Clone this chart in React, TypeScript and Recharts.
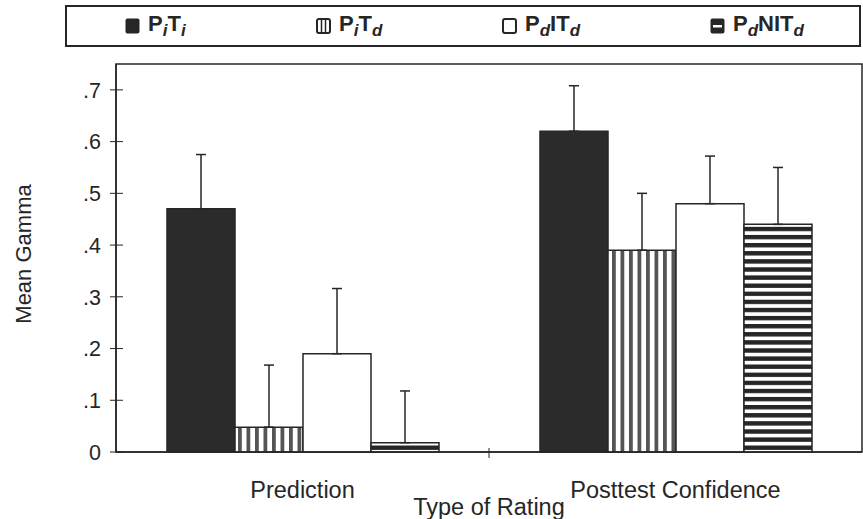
import { BarChart, Bar, XAxis, YAxis, ErrorBar, ReferenceArea } from "recharts";

// values
const categories = ["Prediction", "Posttest Confidence"];
const piTi = [0.47, 0.62];
const piTd = [0.048, 0.39];
const pdITd = [0.19, 0.48];
const pdNITd = [0.018, 0.44];
const piTiErr = [0.105, 0.088];
const piTdErr = [0.12, 0.11];
const pdITdErr = [0.126, 0.092];
const pdNITdErr = [0.1, 0.11];
const yTicks = [0, 0.1, 0.2, 0.3, 0.4, 0.5, 0.6, 0.7];

const INK = "#262626";
const FONT = "'Liberation Sans', Arial, sans-serif";
const CHART_W = 863;
const Y_AXIS_W = 116;

const data = categories.map((name, i) => ({
  name,
  piTi: piTi[i],
  piTd: piTd[i],
  pdITd: pdITd[i],
  pdNITd: pdNITd[i],
  piTiErr: [0, piTiErr[i]],
  piTdErr: [0, piTdErr[i]],
  pdITdErr: [0, pdITdErr[i]],
  pdNITdErr: [0, pdNITdErr[i]],
}));

function YTick({ x, y, payload }: any) { // eslint-disable-line @typescript-eslint/no-explicit-any
  const v = payload.value as number;
  const label = v === 0 ? "0" : "." + Math.round(v * 10);
  return (
    <g>
      <line x1={x - 6} x2={x + 7} y1={y} y2={y} stroke={INK} strokeWidth={1} />
      <text x={x - 15} y={y} dy="0.36em" textAnchor="end" fontSize={21.5} fill={INK} fontFamily={FONT}>
        {label}
      </text>
    </g>
  );
}

/** Category label, plus the little mark on the axis between categories. */
function XTick({ x, y, payload, index }: any) { // eslint-disable-line @typescript-eslint/no-explicit-any
  const half = payload.offset || (CHART_W - Y_AXIS_W - 1) / categories.length / 2;
  return (
    <g>
      {index < categories.length - 1 && (
        <line x1={x + half} x2={x + half} y1={y - 4} y2={y + 6} stroke={INK} strokeWidth={1} />
      )}
      <text x={x} y={y} dy={46} textAnchor="middle" fontSize={23.5} fill={INK} fontFamily={FONT}>
        {payload.value}
      </text>
    </g>
  );
}

function YLabel({ viewBox }: any) { // eslint-disable-line @typescript-eslint/no-explicit-any
  const cx = viewBox.x + 23;
  const cy = viewBox.y + viewBox.height / 2 - 4;
  return (
    <text
      x={cx}
      y={cy}
      transform={`rotate(-90 ${cx} ${cy})`}
      textAnchor="middle"
      dy="0.36em"
      fontSize={22}
      fill={INK}
      fontFamily={FONT}
    >
      Mean Gamma
    </text>
  );
}

/** Small legend swatch drawn like the printed key. */
function Swatch({ kind }: { kind: number }) {
  return (
    <svg width={15} height={16} style={{ position: "absolute", left: 0, top: 11 }}>
      {kind === 0 && <rect x={0.5} y={0.5} width={14} height={15} rx={2} fill={INK} />}
      {kind === 1 && (
        <g>
          <rect x={1} y={1} width={13} height={14} rx={2} fill="#fff" stroke={INK} strokeWidth={2} />
          <line x1={5.5} x2={5.5} y1={1} y2={15} stroke={INK} strokeWidth={1.5} />
          <line x1={9.5} x2={9.5} y1={1} y2={15} stroke={INK} strokeWidth={1.5} />
        </g>
      )}
      {kind === 2 && <rect x={1} y={1} width={13} height={14} rx={2} fill="#fff" stroke={INK} strokeWidth={2} />}
      {kind === 3 && (
        <g>
          <rect x={0.5} y={0.5} width={14} height={15} rx={2} fill={INK} />
          <rect x={3} y={7} width={9} height={2.5} fill="#fff" />
        </g>
      )}
    </svg>
  );
}

const subStyle = { fontStyle: "italic", fontSize: 17, verticalAlign: "-5px", lineHeight: 0 } as const;

const legendItems = [
  { left: 60, kind: 0, label: <>P<span style={subStyle}>i</span>T<span style={subStyle}>i</span></> },
  { left: 251, kind: 1, label: <>P<span style={subStyle}>i</span>T<span style={subStyle}>d</span></> },
  { left: 437, kind: 2, label: <>P<span style={subStyle}>d</span>IT<span style={subStyle}>d</span></> },
  { left: 645, kind: 3, label: <>P<span style={subStyle}>d</span>NIT<span style={subStyle}>d</span></> },
];

function KeyBox() {
  return (
    <div
      style={{
        position: "absolute",
        left: 65,
        top: 5,
        width: 796,
        height: 42,
        boxSizing: "border-box",
        border: `2px solid ${INK}`,
        fontFamily: FONT,
        fontWeight: 700,
        color: INK,
      }}
    >
      {legendItems.map((it) => (
        <div key={it.left} style={{ position: "absolute", left: it.left - 2, top: 0, height: "100%" }}>
          <Swatch kind={it.kind} />
          <span style={{ position: "absolute", left: 23, top: 6, fontSize: 22, lineHeight: "22px", whiteSpace: "nowrap" }}>
            {it.label}
          </span>
        </div>
      ))}
    </div>
  );
}

export default function App() {
  return (
    <div style={{ position: "absolute", left: 0, top: 0, width: CHART_W, height: 519, background: "#fff" }}>
      <KeyBox />
      <BarChart
        width={CHART_W}
        height={519}
        data={data}
        margin={{ top: 64, right: 1, bottom: 0, left: 0 }}
        barGap={0}
        barSize={68}
      >
        <defs>
          <pattern id="vstripe" patternUnits="userSpaceOnUse" width={8.5} height={8}>
            <rect width={8.5} height={8} fill="#fff" />
            <rect x={0} width={3.8} height={8} fill="#555" />
          </pattern>
          <pattern id="hstripe" patternUnits="userSpaceOnUse" width={8} height={8.1}>
            <rect width={8} height={8.1} fill="#fff" />
            <rect y={0} width={8} height={4.4} fill={INK} />
          </pattern>
        </defs>
        <XAxis
          dataKey="name"
          interval={0}
          tick={<XTick />}
          tickLine={false}
          tickSize={0}
          tickMargin={0}
          axisLine={{ stroke: INK, strokeWidth: 1.5 }}
          height={67}
          label={{ value: "Type of Rating", position: "insideBottom", offset: 4, fontSize: 23.5, fill: INK, fontFamily: FONT }}
        />
        <YAxis
          domain={[0, 0.75]}
          ticks={yTicks}
          interval={0}
          width={Y_AXIS_W}
          tick={<YTick />}
          tickLine={false}
          tickSize={0}
          tickMargin={0}
          axisLine={{ stroke: INK, strokeWidth: 1.5 }}
          label={<YLabel />}
        />
        <ReferenceArea y1={0} y2={0.75} fill="none" stroke={INK} strokeWidth={1.5} ifOverflow="extendDomain" />
        <Bar dataKey="piTi" fill="#2b2b2b" stroke={INK} strokeWidth={1.5} isAnimationActive={false}>
          <ErrorBar dataKey="piTiErr" width={5} stroke={INK} strokeWidth={1.5} isAnimationActive={false} />
        </Bar>
        <Bar dataKey="piTd" fill="url(#vstripe)" stroke={INK} strokeWidth={1.5} isAnimationActive={false}>
          <ErrorBar dataKey="piTdErr" width={5} stroke={INK} strokeWidth={1.5} isAnimationActive={false} />
        </Bar>
        <Bar dataKey="pdITd" fill="#fff" stroke={INK} strokeWidth={1.5} isAnimationActive={false}>
          <ErrorBar dataKey="pdITdErr" width={5} stroke={INK} strokeWidth={1.5} isAnimationActive={false} />
        </Bar>
        <Bar dataKey="pdNITd" fill="url(#hstripe)" stroke={INK} strokeWidth={1.5} isAnimationActive={false}>
          <ErrorBar dataKey="pdNITdErr" width={5} stroke={INK} strokeWidth={1.5} isAnimationActive={false} />
        </Bar>
      </BarChart>
    </div>
  );
}
